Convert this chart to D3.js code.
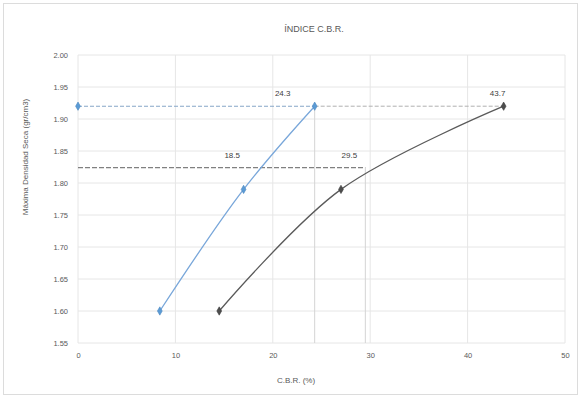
<!DOCTYPE html>
<html>
<head>
<meta charset="utf-8">
<script src="https://cdn.jsdelivr.net/npm/d3@7"></script>
<style>
  html, body { margin: 0; padding: 0; background: #fff; }
  svg { display: block; font-family: "Liberation Sans", Arial, sans-serif; }
</style>
</head>
<body>
<script>
// Compaction curves: C.B.R. (%) vs dry density (gr/cm3)
const cbrBlue = [8.4, 17.0, 24.3];
const densBlue = [1.60, 1.79, 1.92];
const cbrDark = [14.5, 27.0, 43.7];
const densDark = [1.60, 1.79, 1.92];

const maxDensity = 1.92;
const density95 = 1.824;
const cbrAt95Blue = 18.5;
const cbrAt95Dark = 29.5;
const labelValues = [24.3, 18.5, 29.5, 43.7];

const xTicks = [0, 10, 20, 30, 40, 50];
const yTicks = [1.55, 1.60, 1.65, 1.70, 1.75, 1.80, 1.85, 1.90, 1.95, 2.00];

const W = 581, H = 398;
const m = { left: 78, right: 16, top: 55, bottom: 55 };

const svg = d3.select("body").append("svg").attr("width", W).attr("height", H);

// chart area frame
svg.append("rect").attr("x", 3.5).attr("y", 3.5).attr("width", W - 7).attr("height", H - 7)
  .attr("fill", "#fff").attr("stroke", "#dcdcdc").attr("stroke-width", 1);

const x = d3.scaleLinear().domain([0, 50]).range([m.left, W - m.right]);
const y = d3.scaleLinear().domain([1.55, 2.00]).range([H - m.bottom, m.top]);

// gridlines
svg.append("g").selectAll("line").data(yTicks).join("line")
  .attr("x1", x(0)).attr("x2", x(50)).attr("y1", d => y(d)).attr("y2", d => y(d))
  .attr("stroke", "#e6e6e6").attr("stroke-width", 1);
svg.append("g").selectAll("line").data(xTicks).join("line")
  .attr("y1", y(1.55)).attr("y2", y(2.00)).attr("x1", d => x(d)).attr("x2", d => x(d))
  .attr("stroke", "#e6e6e6").attr("stroke-width", 1);

// axes (tick labels only)
const xAxis = svg.append("g").attr("transform", `translate(0,${y(1.55)})`)
  .call(d3.axisBottom(x).tickValues(xTicks).tickSize(0).tickPadding(10).tickFormat(d3.format("d")));
const yAxis = svg.append("g").attr("transform", `translate(${x(0)},0)`)
  .call(d3.axisLeft(y).tickValues(yTicks).tickSize(0).tickPadding(10).tickFormat(d3.format(".2f")));
[xAxis, yAxis].forEach(g => {
  g.select(".domain").remove();
  g.selectAll("text").attr("fill", "#595959").style("font-size", "7.5px");
});

// reference lines: maximum density and 95 %
svg.append("line").attr("x1", x(0)).attr("x2", x(cbrBlue[2])).attr("y1", y(maxDensity)).attr("y2", y(maxDensity))
  .attr("stroke", "#86a6c8").attr("stroke-width", 1.1).attr("stroke-dasharray", "4,2");
svg.append("line").attr("x1", x(cbrBlue[2])).attr("x2", x(cbrDark[2])).attr("y1", y(maxDensity)).attr("y2", y(maxDensity))
  .attr("stroke", "#b0b0b0").attr("stroke-width", 1).attr("stroke-dasharray", "4,2");
svg.append("line").attr("x1", x(0)).attr("x2", x(cbrAt95Dark)).attr("y1", y(density95)).attr("y2", y(density95))
  .attr("stroke", "#808080").attr("stroke-width", 1.1).attr("stroke-dasharray", "5,2");
[cbrBlue[2], cbrAt95Dark].forEach(v => {
  svg.append("line").attr("x1", x(v)).attr("x2", x(v)).attr("y1", y(v === cbrBlue[2] ? maxDensity : density95)).attr("y2", y(1.55))
    .attr("stroke", "#d4d4d4").attr("stroke-width", 1);
});

// curves
const line = d3.line().x(d => x(d[0])).y(d => y(d[1])).curve(d3.curveCatmullRom.alpha(0.5));
const blue = cbrBlue.map((c, i) => [c, densBlue[i]]);
const dark = cbrDark.map((c, i) => [c, densDark[i]]);

svg.append("path").datum(blue).attr("d", line).attr("fill", "none").attr("stroke", "#79a7da").attr("stroke-width", 1.3);
svg.append("path").datum(dark).attr("d", line).attr("fill", "none").attr("stroke", "#5a5a5a").attr("stroke-width", 1.3);

const marker = d3.symbol().type(d3.symbolDiamond).size(20);
svg.append("g").selectAll("path").data([[0, maxDensity], ...blue]).join("path")
  .attr("d", marker).attr("transform", d => `translate(${x(d[0])},${y(d[1])})`)
  .attr("fill", "#5b9bd5").attr("stroke", "#4a86c0").attr("stroke-width", 0.6);
svg.append("g").selectAll("path").data(dark).join("path")
  .attr("d", marker).attr("transform", d => `translate(${x(d[0])},${y(d[1])})`)
  .attr("fill", "#4d4d4d").attr("stroke", "#3a3a3a").attr("stroke-width", 0.6);

// value labels above the points / intersections
const labelAnchors = [[labelValues[0], maxDensity], [labelValues[1], density95], [labelValues[2], density95], [labelValues[3], maxDensity]];
const labelShift = [-32, -26, -16, -6];
svg.append("g").selectAll("text").data(labelAnchors).join("text")
  .attr("x", (d, i) => x(d[0]) + labelShift[i]).attr("y", d => y(d[1]) - 10)
  .attr("text-anchor", "middle").attr("fill", "#404040").style("font-size", "8px")
  .text(d => d3.format(".1f")(d[0]));

// titles
svg.append("text").attr("x", 314).attr("y", 32).attr("text-anchor", "middle")
  .attr("fill", "#595959").style("font-size", "9px").text("ÍNDICE C.B.R.");
svg.append("text").attr("x", 296).attr("y", 383).attr("text-anchor", "middle")
  .attr("fill", "#595959").style("font-size", "8px").text("C.B.R. (%)");
svg.append("text").attr("transform", "translate(28,157) rotate(-90)").attr("text-anchor", "middle")
  .attr("fill", "#595959").style("font-size", "8px").text("Máxima Densidad Seca (gr/cm3)");
</script>
</body>
</html>
